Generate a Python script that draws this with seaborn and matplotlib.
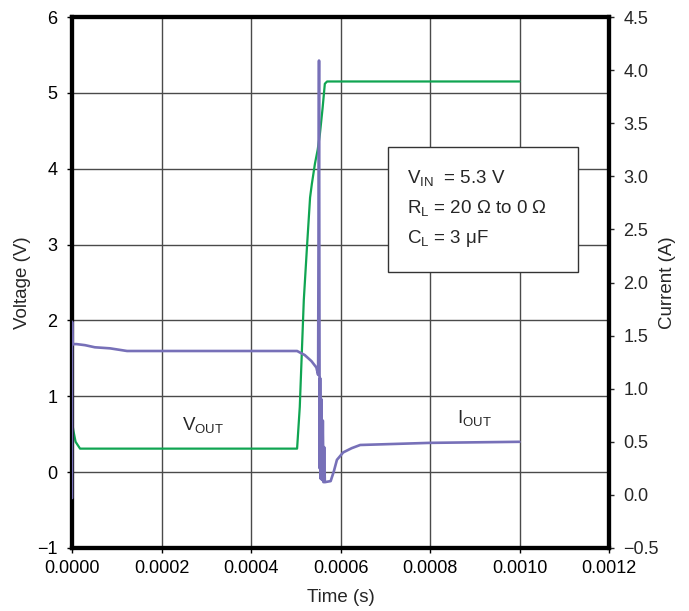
import numpy as np
import pandas as pd
import matplotlib
matplotlib.use("Agg")
import matplotlib.pyplot as plt
from matplotlib.patches import Rectangle
import seaborn as sns

# Output voltage trace (time in s, voltage in V)
vout_t = [0.0, 0.0000005, 0.000003, 0.000008, 0.000018, 0.000503, 0.000509,
          0.000518, 0.000525, 0.000532, 0.000536, 0.000543, 0.000549,
          0.000554, 0.000560, 0.000565, 0.000570, 0.001000]
vout_v = [0.0, 0.65, 0.55, 0.40, 0.31, 0.31, 0.86,
          2.27, 2.96, 3.62, 3.80, 4.07, 4.25,
          4.46, 4.80, 5.12, 5.15, 5.15]

# Output current trace (time in s, current in A)
iout_t = [0.0, 0.0000002, 0.0000006, 0.0000015, 0.000010, 0.000029, 0.000051,
          0.000085, 0.000123, 0.000503, 0.000520, 0.000535, 0.000546, 0.000550,
          0.000552, 0.0005535, 0.0005545, 0.000556, 0.0005575, 0.000559,
          0.0005605, 0.000562, 0.0005635, 0.000565, 0.000578, 0.000585,
          0.000592, 0.000606, 0.000625, 0.000644, 0.000800, 0.001000]
iout_a = [-0.03, 1.63, 1.45, 1.42, 1.42, 1.41, 1.39,
          1.38, 1.355, 1.355, 1.317, 1.26, 1.20, 1.13,
          4.09, 0.25, 1.10, 0.15, 0.90, 0.14,
          0.70, 0.12, 0.45, 0.12, 0.13, 0.22,
          0.33, 0.40, 0.44, 0.47, 0.49, 0.50]

v_ticks = [-1, 0, 1, 2, 3, 4, 5, 6]
i_ticks = [-0.5, 0.0, 0.5, 1.0, 1.5, 2.0, 2.5, 3.0, 3.5, 4.0, 4.5]
t_ticks = [0.0, 0.0002, 0.0004, 0.0006, 0.0008, 0.0010, 0.0012]

conditions = ["V$_\\mathregular{IN}$  = 5.3 V",
              "R$_\\mathregular{L}$ = 20 \u03a9 to 0 \u03a9",
              "C$_\\mathregular{L}$ = 3 \u03bcF"]

sns.set_style("white")
plt.rcParams["font.family"] = ["Liberation Sans", "DejaVu Sans"]
plt.rcParams["mathtext.fontset"] = "custom"
plt.rcParams["mathtext.rm"] = "Liberation Sans"

green = "#10a552"
purple = "#7770b8"
grid_c = "#4a4a4a"

fig = plt.figure(figsize=(6.89, 6.11), dpi=100)
ax = fig.add_axes([72 / 689, 1 - 548 / 611, 537 / 689, 531 / 611])
ax2 = ax.twinx()

vdf = pd.DataFrame({"t": vout_t, "v": vout_v})
idf = pd.DataFrame({"t": iout_t, "i": iout_a})

sns.lineplot(data=vdf, x="t", y="v", ax=ax, color=green, lw=1.6,
             sort=False, estimator=None, zorder=3)
sns.lineplot(data=idf, x="t", y="i", ax=ax2, color=purple, lw=1.9,
             sort=False, estimator=None, zorder=3)

ax.set_xlim(0, 0.0012)
ax.set_ylim(-1, 6)
ax2.set_ylim(-0.5, 4.5)

ax.set_xticks(t_ticks)
ax.set_xticklabels([f"{t:.4f}" for t in t_ticks])
ax.set_yticks(v_ticks)
ax.set_yticklabels([f"{v:d}".replace("-", "\u2212") for v in v_ticks])
ax2.set_yticks(i_ticks)
ax2.set_yticklabels([f"{i:.1f}".replace("-", "\u2212") for i in i_ticks])

ax.grid(True, color=grid_c, lw=1.0)
ax.set_axisbelow(True)
ax2.grid(False)

for a in (ax, ax2):
    for s in a.spines.values():
        s.set_visible(True)
        s.set_linewidth(3.0)
        s.set_color("black")

ax.tick_params(axis="both", direction="out", length=3.5, width=1.0,
               labelsize=13, pad=7, colors="black", left=True, bottom=True)
ax.tick_params(axis="x", pad=5)
ax2.tick_params(axis="y", direction="out", length=3.5, width=1.0,
                labelsize=13, pad=7, right=True)

ax.set_xlabel("Time (s)", fontsize=13.5)
ax.set_ylabel("Voltage (V)", fontsize=13.5)
ax2.set_ylabel("Current (A)", fontsize=13.5, rotation=90)
ax.xaxis.set_label_coords(0.5, -0.077)
ax.yaxis.set_label_coords(-0.076, 0.5)
ax2.yaxis.set_label_coords(1.093, 0.5)

ax.text(0.000246, 0.55, "V$_\\mathregular{OUT}$", fontsize=13.5, va="baseline", zorder=5)
ax.text(0.00086, 0.645, "I$_\\mathregular{OUT}$", fontsize=13.5, va="baseline", zorder=5)

box = Rectangle((0.5885, 0.5198), 0.9423 - 0.5885, 0.7552 - 0.5198,
                transform=ax2.transAxes, facecolor="white", edgecolor="#333333",
                lw=1.0, zorder=6)
ax2.add_patch(box)
for txt, yb in zip(conditions, [0.687, 0.629, 0.574]):
    ax2.text(0.624, yb, txt, transform=ax2.transAxes, fontsize=13.5,
             va="baseline", ha="left", zorder=7)

fig.savefig("out.png", dpi=100)
